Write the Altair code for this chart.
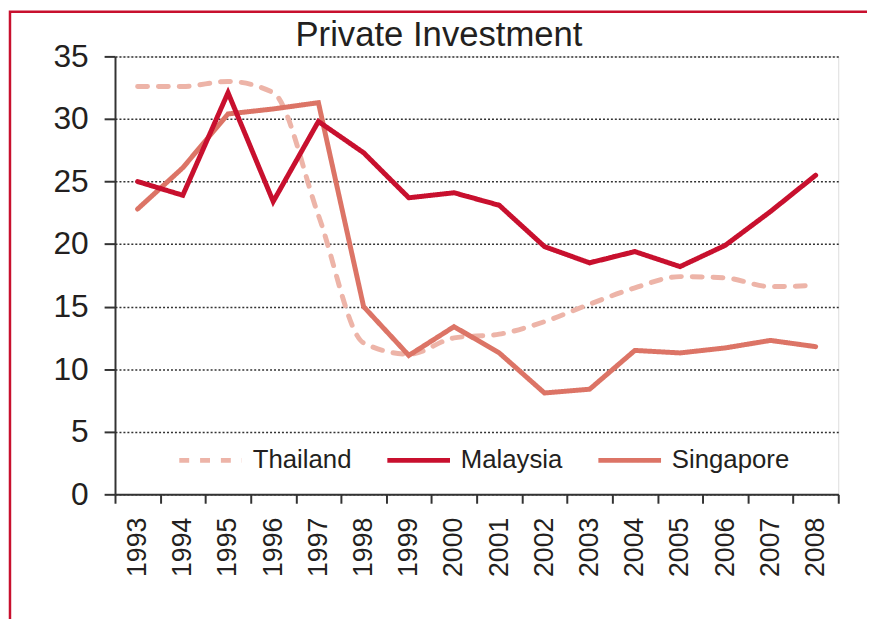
import altair as alt
import pandas as pd

years = [str(y) for y in range(1993, 2009)]
series_names = ["Thailand", "Malaysia", "Singapore"]
thailand = [32.6, 32.6, 33.0, 32.1, 22.3, 12.1, 11.2, 12.5, 12.8, 13.8, 15.2, 16.5, 17.4, 17.3, 16.6, 16.7]
malaysia = [25.0, 23.9, 32.1, 23.4, 29.8, 27.3, 23.7, 24.1, 23.1, 19.8, 18.5, 19.4, 18.2, 19.9, 22.6, 25.5]
singapore = [22.8, 26.1, 30.4, 30.8, 31.3, 15.0, 11.1, 13.4, 11.3, 8.1, 8.4, 11.5, 11.3, 11.7, 12.3, 11.8]
y_ticks = [0, 5, 10, 15, 20, 25, 30, 35]
colors = ["#EDB4A8", "#C8102E", "#DC7466"]
dashes = [[10, 11], [1, 0], [1, 0]]
title_text = "Private Investment"

rows = []
for name, vals in zip(series_names, [thailand, malaysia, singapore]):
    for yr, v in zip(years, vals):
        rows.append({"year": yr, "series": name, "value": v})
df = pd.DataFrame(rows)

W, H = 730, 442
FONT = "Liberation Sans"

x_enc = alt.X(
    "year:O",
    bandPosition=0.5,
    scale=alt.Scale(type="band", paddingInner=0, paddingOuter=0),
    axis=alt.Axis(
        title=None, labelAngle=-90, labelFontSize=27, labelPadding=14,
        tickBand="extent", tickSize=9, tickWidth=2, tickColor="#333333",
        domainColor="#333333", domainWidth=2, grid=False, labelColor="#231F20",
        labelFont=FONT,
    ),
)
y_enc = alt.Y(
    "value:Q",
    scale=alt.Scale(domain=[0, 35], nice=False, zero=True),
    axis=alt.Axis(
        title=None, values=y_ticks, labelFontSize=32, labelPadding=16,
        tickSize=11, tickWidth=2, tickColor="#333333", domainColor="#333333",
        domainWidth=2, grid=True, gridColor="#333333", gridDash=[2, 2],
        gridWidth=1.5, labelColor="#231F20", labelFont=FONT,
    ),
)
legend = alt.Legend(
    title=None, orient="none", direction="horizontal", legendX=62, legendY=373,
    symbolType="stroke", symbolSize=4000, symbolStrokeWidth=5,
    labelFontSize=26, labelFont=FONT, labelColor="#231F20", labelOffset=8,
    columnPadding=25, padding=0, symbolOffset=0,
)
color_enc = alt.Color("series:N", scale=alt.Scale(domain=series_names, range=colors), legend=legend)
dash_enc = alt.StrokeDash("series:N", scale=alt.Scale(domain=series_names, range=dashes), legend=legend)

base = alt.Chart(df).encode(x=x_enc, y=y_enc, color=color_enc, strokeDash=dash_enc)

thai = base.transform_filter(alt.datum.series == "Thailand").mark_line(
    strokeWidth=5, strokeCap="round", interpolate="monotone")
sing = base.transform_filter(alt.datum.series == "Singapore").mark_line(
    strokeWidth=5, strokeCap="round", strokeJoin="miter")
mal = base.transform_filter(alt.datum.series == "Malaysia").mark_line(
    strokeWidth=5, strokeCap="round", strokeJoin="miter")

frame = alt.Chart(pd.DataFrame({"a": [0]})).mark_rect(
    fill=None, fillOpacity=0, stroke="#C8102E", strokeWidth=2.5
).encode(
    x=alt.value(-106), x2=alt.value(W + 60), y=alt.value(-45), y2=alt.value(H + 200)
)

title = alt.Chart(pd.DataFrame({"t": [title_text]})).mark_text(
    font=FONT, fontSize=35, color="#231F20", align="center", baseline="alphabetic"
).encode(x=alt.value(327), y=alt.value(-10), text="t:N")

chart = alt.layer(frame, thai, sing, mal, title).properties(
    width=W, height=H,
    autosize=alt.AutoSizeParams(type="none"),
    padding={"left": 108, "top": 46, "right": 29, "bottom": 123},
).configure_view(stroke=None).configure(background="white")

chart.save("out.html", embed_options={"renderer": "svg", "actions": False})
